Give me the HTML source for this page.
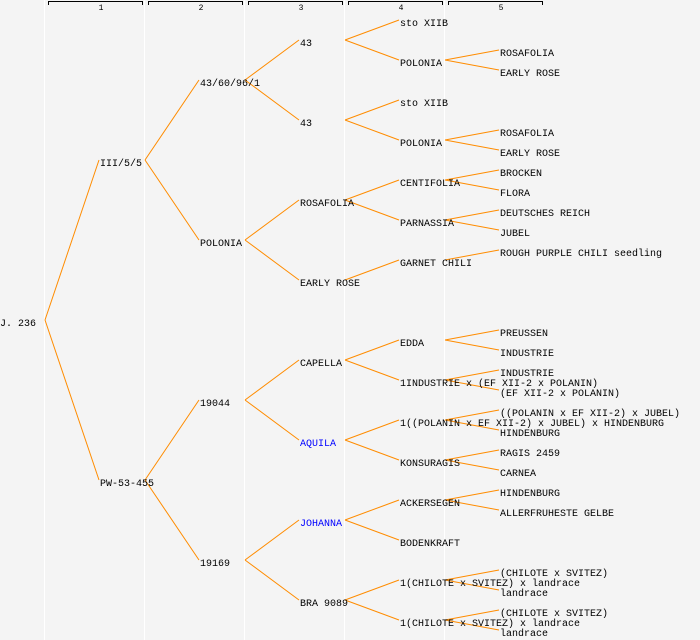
<!DOCTYPE html>
<html><head><meta charset="utf-8"><style>
html,body{margin:0;padding:0;background:#f4f4f4;}
svg{display:block}
text{font-family:"Liberation Mono","DejaVu Sans Mono",monospace;font-size:10px;fill:#000}
</style></head><body>
<svg width="700" height="640" xmlns="http://www.w3.org/2000/svg">
<rect width="700" height="640" fill="#f4f4f4"/>
<g stroke="#fff" stroke-width="1">
<line x1="44.5" y1="0" x2="44.5" y2="640"/><line x1="144.5" y1="0" x2="144.5" y2="640"/>
<line x1="244.5" y1="0" x2="244.5" y2="640"/><line x1="344.5" y1="0" x2="344.5" y2="640"/>
<line x1="444.5" y1="0" x2="444.5" y2="640"/>
</g>
<g stroke="#000" stroke-width="1" fill="none">
<path d="M48.5 5V1.5H142.5V5"/><path d="M148.5 5V1.5H242.5V5"/><path d="M248.5 5V1.5H342.5V5"/>
<path d="M348.5 5V1.5H442.5V5"/><path d="M448.5 5V1.5H542.5V5"/>
</g>
<g style="font-size:8px" text-anchor="middle">
<text x="101" y="10" style="font-size:8px">1</text><text x="201" y="10" style="font-size:8px">2</text>
<text x="301" y="10" style="font-size:8px">3</text><text x="401" y="10" style="font-size:8px">4</text>
<text x="501" y="10" style="font-size:8px">5</text>
</g>
<g stroke="#ff8c00" stroke-width="1" fill="none">
<path d="M45 320L99 160M45 320L99 480"/>
<path d="M145 160L199 80M145 160L199 240M145 480L199 400M145 480L199 560"/>
<path d="M245 80L299 40M245 80L299 120M245 240L299 200M245 240L299 280M245 400L299 360M245 400L299 440M245 560L299 520M245 560L299 600"/>
<path d="M345 40L399 20M345 40L399 60M345 120L399 100M345 120L399 140M345 200L399 180M345 200L399 220M345 280L399 260M345 360L399 340M345 360L399 380M345 440L399 420M345 440L399 460M345 520L399 500M345 520L399 540M345 600L399 580M345 600L399 620"/>
<path d="M445 60L499 50M445 60L499 70M445 140L499 130M445 140L499 150M445 180L499 170M445 180L499 190M445 220L499 210M445 220L499 230M445 260L499 250M445 340L499 330M445 340L499 350M445 380L499 370M445 380L499 390M445 420L499 410M445 420L499 430M445 460L499 450M445 460L499 470M445 500L499 490M445 500L499 510M445 580L499 570M445 580L499 590M445 620L499 610M445 620L499 630"/>
</g>
<g>
<text x="0" y="326">J. 236</text>
<text x="100" y="166">III/5/5</text><text x="100" y="486">PW-53-455</text>
<text x="200" y="86">43/60/96/1</text><text x="200" y="246">POLONIA</text><text x="200" y="406">19044</text><text x="200" y="566">19169</text>
<text x="300" y="46">43</text><text x="300" y="126">43</text><text x="300" y="206">ROSAFOLIA</text><text x="300" y="286">EARLY ROSE</text>
<text x="300" y="366">CAPELLA</text><text x="300" y="446" style="fill:#0000ff">AQUILA</text><text x="300" y="526" style="fill:#0000ff">JOHANNA</text><text x="300" y="606">BRA 9089</text>
<text x="400" y="26">sto XIIB</text><text x="400" y="66">POLONIA</text><text x="400" y="106">sto XIIB</text><text x="400" y="146">POLONIA</text>
<text x="400" y="186">CENTIFOLIA</text><text x="400" y="226">PARNASSIA</text><text x="400" y="266">GARNET CHILI</text>
<text x="400" y="346">EDDA</text><text x="400" y="386">1INDUSTRIE x (EF XII-2 x POLANIN)</text>
<text x="400" y="426">1((POLANIN x EF XII-2) x JUBEL) x HINDENBURG</text><text x="400" y="466">KONSURAGIS</text>
<text x="400" y="506">ACKERSEGEN</text><text x="400" y="546">BODENKRAFT</text>
<text x="400" y="586">1(CHILOTE x SVITEZ) x landrace</text><text x="400" y="626">1(CHILOTE x SVITEZ) x landrace</text>
<text x="500" y="56">ROSAFOLIA</text><text x="500" y="76">EARLY ROSE</text>
<text x="500" y="136">ROSAFOLIA</text><text x="500" y="156">EARLY ROSE</text>
<text x="500" y="176">BROCKEN</text><text x="500" y="196">FLORA</text>
<text x="500" y="216">DEUTSCHES REICH</text><text x="500" y="236">JUBEL</text>
<text x="500" y="256">ROUGH PURPLE CHILI seedling</text>
<text x="500" y="336">PREUSSEN</text><text x="500" y="356">INDUSTRIE</text>
<text x="500" y="376">INDUSTRIE</text><text x="500" y="396">(EF XII-2 x POLANIN)</text>
<text x="500" y="416">((POLANIN x EF XII-2) x JUBEL)</text><text x="500" y="436">HINDENBURG</text>
<text x="500" y="456">RAGIS 2459</text><text x="500" y="476">CARNEA</text>
<text x="500" y="496">HINDENBURG</text><text x="500" y="516">ALLERFRUHESTE GELBE</text>
<text x="500" y="576">(CHILOTE x SVITEZ)</text><text x="500" y="596">landrace</text>
<text x="500" y="616">(CHILOTE x SVITEZ)</text><text x="500" y="636">landrace</text>
</g>
</svg>
</body></html>
